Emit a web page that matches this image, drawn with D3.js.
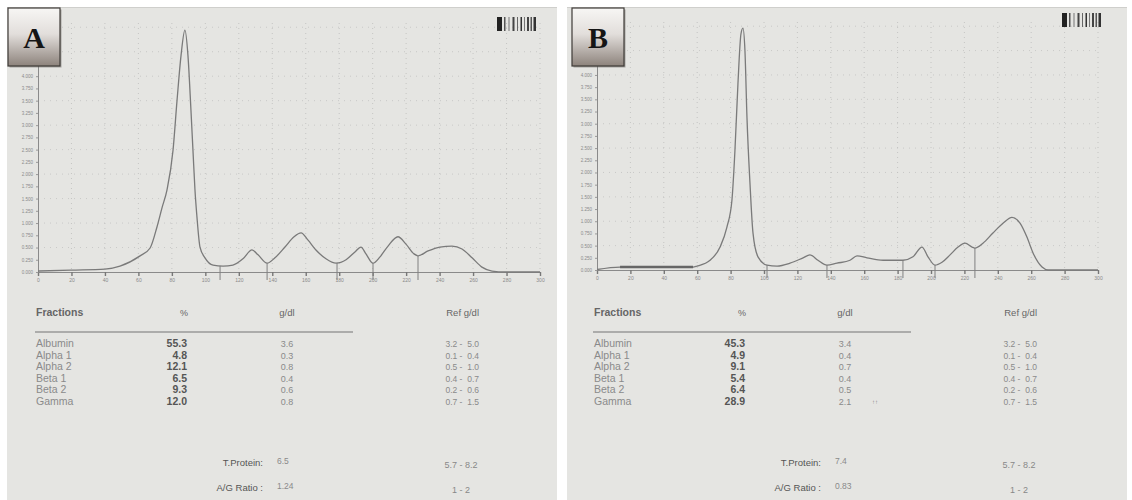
<!DOCTYPE html>
<html>
<head>
<meta charset="utf-8">
<script src="https://cdn.jsdelivr.net/npm/d3@7"></script>
<style>
  body { margin: 0; background: #ffffff; }
  svg { display: block; font-family: "Liberation Sans", Arial, sans-serif; }
</style>
</head>
<body>
<svg id="chart" width="1132" height="500"></svg>
<script>
// ---------------- DATA ----------------
const panelLabels = ["A", "B"];
const xTicks = [0, 20, 40, 60, 80, 100, 120, 140, 160, 180, 200, 220, 240, 260, 280, 300];
const yTicks = [0, 0.25, 0.5, 0.75, 1.0, 1.25, 1.5, 1.75, 2.0, 2.25, 2.5, 2.75, 3.0, 3.25, 3.5, 3.75, 4.0];
const yGrid = [0.5, 1.0, 1.5, 2.0, 2.5, 3.0, 3.5, 4.0, 4.5, 5.0];

// densitometry trace, panel A (mobility units, absorbance)
const traceA_x = [0, 19.7, 40, 49, 61, 67, 71.1, 74.1, 77.1, 80.7, 83.1, 85.5, 87.8, 89.6, 91.4, 92.6, 93.8, 95, 96.8, 99.8, 104.6, 110.6, 116.5, 122.5, 127.9, 131.5, 136.9, 141.6, 147.6, 153, 157.2, 161.4, 166.1, 172.1, 178.1, 184.1, 189.4, 193, 196, 200.2, 204.4, 209.2, 215.1, 219.9, 224.7, 227.1, 233.1, 240.2, 247.4, 253.4, 259.4, 265.3, 271.3, 279.1, 288.1, 300];
const traceA_y = [0.02, 0.04, 0.06, 0.12, 0.33, 0.49, 0.92, 1.31, 1.68, 2.49, 3.51, 4.43, 4.94, 4.43, 3.31, 2.49, 1.68, 1.12, 0.51, 0.29, 0.14, 0.12, 0.14, 0.27, 0.45, 0.35, 0.18, 0.29, 0.51, 0.72, 0.80, 0.65, 0.45, 0.27, 0.18, 0.25, 0.41, 0.51, 0.37, 0.18, 0.31, 0.53, 0.72, 0.57, 0.37, 0.33, 0.43, 0.51, 0.53, 0.47, 0.29, 0.10, 0.02, 0.0, 0.0, 0.0];
const splitsA = [108.8, 136.9, 178.7, 200.2, 227.1];
const highlightA = [];

// densitometry trace, panel B
const traceB_x = [0, 13.8, 37.7, 57.5, 59.9, 67.7, 73.7, 77.8, 80.8, 82.6, 84.4, 86.2, 87.4, 88.6, 89.8, 91.6, 93.4, 96.4, 101.8, 107.8, 115.6, 123.4, 127.5, 132.3, 137.7, 143.7, 151.5, 155.7, 161.7, 171.3, 183.2, 189.2, 194.6, 198.2, 202.4, 206.6, 211.4, 216.2, 220.4, 224.6, 226.3, 231.1, 237.1, 243.1, 248.5, 253.3, 257.5, 261.1, 266.5, 270.1, 280, 300];
const traceB_y = [0.01, 0.06, 0.06, 0.06, 0.08, 0.20, 0.47, 0.88, 1.43, 2.45, 3.82, 4.84, 4.96, 4.49, 3.13, 1.78, 0.76, 0.27, 0.10, 0.08, 0.14, 0.25, 0.31, 0.20, 0.10, 0.14, 0.20, 0.29, 0.25, 0.20, 0.20, 0.27, 0.47, 0.27, 0.10, 0.16, 0.31, 0.47, 0.55, 0.47, 0.45, 0.55, 0.76, 0.96, 1.08, 0.96, 0.67, 0.35, 0.06, 0.0, 0.0, 0.0];
const splitsB = [101.8, 137.7, 183.2, 202.4, 226.3];
const highlightB = [13.8, 57.5];

// report tables
const tableHeaders = ["Fractions", "%", "g/dl", "Ref g/dl"];
const fractionNames = ["Albumin", "Alpha 1", "Alpha 2", "Beta 1", "Beta 2", "Gamma"];
const refRanges = ["3.2 -  5.0", "0.1 -  0.4", "0.5 -  1.0", "0.4 -  0.7", "0.2 -  0.6", "0.7 -  1.5"];
const pctA = ["55.3", "4.8", "12.1", "6.5", "9.3", "12.0"];
const gdlA = ["3.6", "0.3", "0.8", "0.4", "0.6", "0.8"];
const pctB = ["45.3", "4.9", "9.1", "5.4", "6.4", "28.9"];
const gdlB = ["3.4", "0.4", "0.7", "0.4", "0.5", "2.1"];
const flagsB = ["", "", "", "", "", "↑↑"];
const summaryLabels = ["T.Protein:", "A/G Ratio :"];
const summaryA = ["6.5", "1.24"];
const summaryB = ["7.4", "0.83"];
const summaryRef = ["5.7 - 8.2", "1 - 2"];
const barcodeBars = [[5, "#222"], [2, "#fff0"], [1.5, "#555"], [3, "#fff0"], [1, "#777"], [3, "#fff0"], [2, "#444"], [2.5, "#fff0"], [1, "#666"], [2.5, "#fff0"], [1.5, "#333"], [2, "#fff0"], [1, "#777"], [2, "#fff0"], [2, "#444"], [1.5, "#fff0"], [1.5, "#555"], [1.5, "#fff0"], [2.5, "#333"]];

// ---------------- DRAW ----------------
const svg = d3.select("#chart");
const defs = svg.append("defs");
const grad = defs.append("linearGradient").attr("id", "boxGrad")
  .attr("x1", 0).attr("y1", 0).attr("x2", 0).attr("y2", 1);
grad.append("stop").attr("offset", "0%").attr("stop-color", "#f7f6f4");
grad.append("stop").attr("offset", "45%").attr("stop-color", "#e2dedb");
grad.append("stop").attr("offset", "100%").attr("stop-color", "#8d837c");

const panels = [
  { label: panelLabels[0], px: 7, pw: 550, left: 38, right: 540, base: 272, top: 15,
    tx: traceA_x, ty: traceA_y, splits: splitsA, hl: highlightA, pct: pctA, gdl: gdlA, flags: ["", "", "", "", "", ""],
    summ: summaryA, bx: 8, barX: 497, barY: 17, tOff: 0 },
  { label: panelLabels[1], px: 567, pw: 560, left: 597, right: 1098, base: 270, top: 14,
    tx: traceB_x, ty: traceB_y, splits: splitsB, hl: highlightB, pct: pctB, gdl: gdlB, flags: flagsB,
    summ: summaryB, bx: 572, barX: 1062, barY: 13, tOff: 558 }
];

panels.forEach(p => {
  const g = svg.append("g");
  g.append("rect").attr("x", p.px).attr("y", 7).attr("width", p.pw).attr("height", 493)
    .attr("fill", "#e5e5e2");
  g.append("line").attr("x1", p.px).attr("x2", p.px + p.pw).attr("y1", 7.5).attr("y2", 7.5)
    .attr("stroke", "#cfcfcc").attr("stroke-width", 1);

  const x = d3.scaleLinear().domain([0, 300]).range([p.left, p.right]);
  const y = d3.scaleLinear().domain([0, 5.25]).range([p.base, p.top]);

  // grid
  g.append("g").selectAll("line").data(xTicks.slice(1)).join("line")
    .attr("x1", d => x(d)).attr("x2", d => x(d)).attr("y1", p.top + 8).attr("y2", p.base)
    .attr("stroke", "#bdbdbb").attr("stroke-width", 0.8).attr("stroke-dasharray", "1,4");
  g.append("g").selectAll("line").data(yGrid).join("line")
    .attr("x1", p.left).attr("x2", p.right).attr("y1", d => y(d)).attr("y2", d => y(d))
    .attr("stroke", "#c2c2c0").attr("stroke-width", 0.8).attr("stroke-dasharray", "1,5");

  // axes
  const xAxis = d3.axisBottom(x).tickValues(xTicks).tickSize(4).tickFormat(d3.format("d"));
  const xa = g.append("g").attr("transform", `translate(0,${p.base})`).call(xAxis);
  xa.select(".domain").attr("stroke", "#8a8a8a");
  xa.selectAll(".tick line").attr("stroke", "#777").attr("stroke-width", 1.4);
  xa.selectAll(".tick text").attr("fill", "#8a8a8a").attr("font-size", 5).attr("dy", "0.6em");

  const yAxis = d3.axisLeft(y).tickValues(yTicks).tickSize(2).tickFormat(d3.format(".3f"));
  const ya = g.append("g").attr("transform", `translate(${p.left},0)`).call(yAxis);
  ya.select(".domain").attr("stroke", "#8a8a8a");
  ya.selectAll(".tick line").attr("stroke", "#999");
  ya.selectAll(".tick text").attr("fill", "#8a8a8a").attr("font-size", 4.5);

  // fraction split lines
  const interp = d => {
    const i = d3.bisectLeft(p.tx, d);
    const x0 = p.tx[i - 1], x1 = p.tx[i];
    return p.ty[i - 1] + (p.ty[i] - p.ty[i - 1]) * (d - x0) / (x1 - x0);
  };
  g.append("g").selectAll("line").data(p.splits).join("line")
    .attr("x1", d => x(d)).attr("x2", d => x(d))
    .attr("y1", d => y(interp(d))).attr("y2", p.base + 8)
    .attr("stroke", "#808080").attr("stroke-width", 1);

  // trace
  const pts = p.tx.map((d, i) => [d, p.ty[i]]);
  const line = d3.line().x(d => x(d[0])).y(d => y(d[1])).curve(d3.curveMonotoneX);
  g.append("path").datum(pts).attr("d", line)
    .attr("fill", "none").attr("stroke", "#7a7a7a").attr("stroke-width", 1.3);
  if (p.hl.length === 2) {
    const seg = pts.filter(d => d[0] >= p.hl[0] && d[0] <= p.hl[1]);
    g.append("path").datum(seg).attr("d", line)
      .attr("fill", "none").attr("stroke", "#666").attr("stroke-width", 2.4);
  }

  // barcode
  let bx = p.barX;
  barcodeBars.forEach(b => {
    g.append("rect").attr("x", bx).attr("y", p.barY).attr("width", b[0]).attr("height", 14).attr("fill", b[1]);
    bx += b[0];
  });

  // label box
  g.append("rect").attr("x", p.bx + 1.5).attr("y", 9.5).attr("width", 52).attr("height", 58)
    .attr("fill", "#6a6560").attr("opacity", 0.5);
  g.append("rect").attr("x", p.bx).attr("y", 8).attr("width", 52).attr("height", 58)
    .attr("fill", "url(#boxGrad)").attr("stroke", "#3f3b38").attr("stroke-width", 1.2);
  g.append("text").attr("x", p.bx + 26).attr("y", 48).attr("text-anchor", "middle")
    .attr("font-family", "'Liberation Serif', 'DejaVu Serif', serif").attr("font-weight", "bold")
    .attr("font-size", 30).attr("fill", "#151515").text(p.label);

  // table
  const t = g.append("g").attr("transform", `translate(${p.tOff},0)`);
  const hdrY = 316;
  t.append("text").attr("x", 36).attr("y", hdrY).text(tableHeaders[0])
    .attr("font-size", 10.5).attr("font-weight", "bold").attr("fill", "#666");
  t.append("text").attr("x", 184).attr("y", hdrY).text(tableHeaders[1]).attr("text-anchor", "middle")
    .attr("font-size", 9).attr("fill", "#666");
  t.append("text").attr("x", 287).attr("y", hdrY).text(tableHeaders[2]).attr("text-anchor", "middle")
    .attr("font-size", 9.5).attr("fill", "#666");
  t.append("text").attr("x", 479).attr("y", hdrY).text(tableHeaders[3]).attr("text-anchor", "end")
    .attr("font-size", 9.5).attr("fill", "#666");
  t.append("line").attr("x1", 35).attr("x2", 353).attr("y1", 332).attr("y2", 332)
    .attr("stroke", "#999").attr("stroke-width", 1.5);

  const rowY = i => 347 + i * 11.5;
  t.append("g").selectAll("text").data(fractionNames).join("text")
    .attr("x", 36).attr("y", (d, i) => rowY(i)).text(d => d)
    .attr("font-size", 10.5).attr("fill", "#8a8a8a");
  t.append("g").selectAll("text").data(p.pct).join("text")
    .attr("x", 187).attr("y", (d, i) => rowY(i)).text(d => d).attr("text-anchor", "end")
    .attr("font-size", 10.5).attr("font-weight", "bold").attr("fill", "#555");
  t.append("g").selectAll("text").data(p.gdl).join("text")
    .attr("x", 287).attr("y", (d, i) => rowY(i)).text(d => d).attr("text-anchor", "middle")
    .attr("font-size", 9).attr("fill", "#8a8a8a");
  t.append("g").selectAll("text").data(p.flags).join("text")
    .attr("x", 314).attr("y", (d, i) => rowY(i) - 1).text(d => d)
    .attr("font-size", 6).attr("fill", "#888");
  t.append("g").selectAll("text").data(refRanges).join("text")
    .attr("x", 479).attr("y", (d, i) => rowY(i)).text(d => d).attr("text-anchor", "end")
    .attr("font-size", 8.5).attr("fill", "#8a8a8a").attr("xml:space", "preserve");

  const sumY = [466, 491];
  t.append("g").selectAll("text").data(summaryLabels).join("text")
    .attr("x", 263).attr("y", (d, i) => sumY[i]).text(d => d).attr("text-anchor", "end")
    .attr("font-size", 9.5).attr("fill", "#555");
  t.append("g").selectAll("text").data(p.summ).join("text")
    .attr("x", 277).attr("y", (d, i) => sumY[i] - 2).text(d => d)
    .attr("font-size", 8.5).attr("fill", "#8a8a8a");
  t.append("g").selectAll("text").data(summaryRef).join("text")
    .attr("x", 461).attr("y", (d, i) => sumY[i] + 2).text(d => d).attr("text-anchor", "middle")
    .attr("font-size", 9).attr("fill", "#888");
});
</script>
</body>
</html>
